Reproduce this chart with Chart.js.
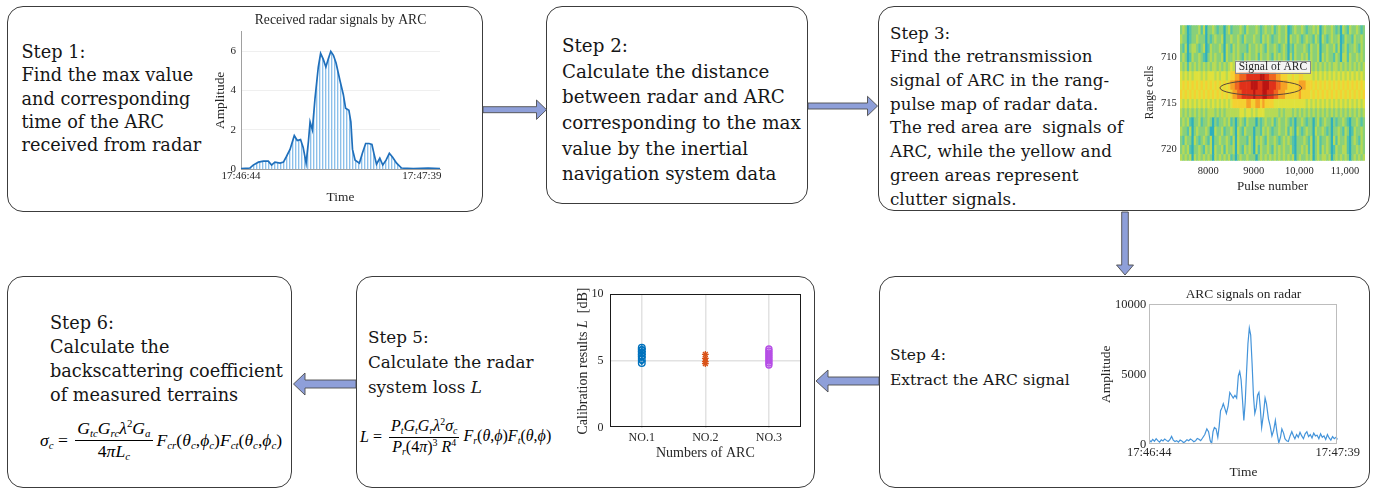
<!DOCTYPE html>
<html>
<head>
<meta charset="utf-8">
<title>ARC calibration workflow</title>
<script src="https://cdn.jsdelivr.net/npm/chart.js@4.4.1/dist/chart.umd.min.js"></script>
<style>
  html, body { margin: 0; padding: 0; background: #fff; }
  #stage { position: relative; width: 1376px; height: 490px; overflow: hidden; background: #fff; color: #161616; font-family: "DejaVu Serif", serif; }
  .box { position: absolute; box-sizing: border-box; border: 1px solid #3c3c3c; border-radius: 16px; }
  .txt { position: absolute; white-space: nowrap; font-size: 17.7px; line-height: 23.3px; }
  canvas { position: absolute; }
  #arrows { position: absolute; left: 0; top: 0; }
  .eq { position: absolute; display: flex; align-items: center; white-space: nowrap; font-family: "Liberation Serif", serif; font-style: italic; color: #000; }
  .eq .up { font-style: normal; }
  .eq sub, .eq sup { font-size: 0.62em; line-height: 1; }
  .eq sub { vertical-align: -0.3em; }
  .eq sup { vertical-align: 0.6em; }
  .frac { display: inline-flex; flex-direction: column; align-items: center; margin: 0 4px 0 3px; }
  .frac > span { line-height: 1.15; padding: 0 2px; }
  .frac > .num { border-bottom: 1px solid #000; padding-bottom: 1px; }
</style>
</head>
<body>
<div id="stage">
  <!-- step panels -->
  <div class="box" style="left:7px;top:6px;width:476px;height:206px;"></div>
  <div class="box" style="left:546px;top:6px;width:262px;height:198px;"></div>
  <div class="box" style="left:878px;top:6px;width:492px;height:205px;"></div>
  <div class="box" style="left:879px;top:276px;width:491px;height:212px;"></div>
  <div class="box" style="left:356px;top:276px;width:459px;height:212px;"></div>
  <div class="box" style="left:7px;top:276px;width:285px;height:212px;"></div>

  <!-- flow arrows -->
  <svg id="arrows" width="1376" height="490">
    <g fill="#8e9fd9" stroke="#4d4d4d" stroke-width="0.9" stroke-linejoin="miter">
      <polygon points="483,106.7 536.5,106.7 536.5,100 546.5,109.7 536.5,119.4 536.5,112.7 483,112.7"/>
      <polygon points="808,103 867.5,103 867.5,96.3 877.5,106 867.5,115.7 867.5,109 808,109"/>
      <polygon points="1121.7,212 1128.3,212 1128.3,265 1133.5,265 1125,275 1116.5,265 1121.7,265"/>
      <polygon points="879,377 828,377 828,370 816,381 828,392 828,385 879,385"/>
      <polygon points="356,380 305,380 305,373 293.5,384 305,395 305,388 356,388"/>
    </g>
  </svg>

  <!-- step texts -->
  <div class="txt" style="left:21.5px;top:41px;">Step 1:<br>Find the max value<br>and corresponding<br>time of the ARC<br>received from radar</div>
  <div class="txt" style="left:562px;top:32.8px;font-size:18.3px;line-height:25.7px;">Step 2:<br>Calculate the distance<br>between radar and ARC<br>corresponding to the max<br>value by the inertial<br>navigation system data</div>
  <div class="txt" style="left:890px;top:21.6px;font-size:16.7px;line-height:23.7px;">Step 3:<br>Find the retransmission<br>signal of ARC in the rang-<br>pulse map of radar data.<br>The red area are&nbsp; signals of<br>ARC, while the yellow and<br>green areas represent<br>clutter signals.</div>
  <div class="txt" style="left:890px;top:343.1px;font-size:15.5px;line-height:25px;">Step 4:<br>Extract the ARC signal</div>
  <div class="txt" style="left:368px;top:324.7px;font-size:16.8px;line-height:25px;">Step 5:<br>Calculate the radar<br>system loss <i>L</i></div>
  <div class="txt" style="left:50px;top:310.8px;line-height:24px;">Step 6:<br>Calculate the<br>backscattering coefficient<br>of measured terrains</div>

  <!-- charts -->
  <canvas id="c1" width="242" height="200" style="left:208px;top:8px;"></canvas>
  <canvas id="c3" width="232" height="182" style="left:1140px;top:15px;"></canvas>
  <canvas id="c4" width="276" height="201" style="left:1098px;top:284px;"></canvas>
  <canvas id="c5" width="233" height="179" style="left:575px;top:286px;"></canvas>

  <!-- equations -->
  <div class="eq" style="left:40px;top:418px;font-size:17.6px;">
    <span>σ<sub>c</sub></span><span class="up">&nbsp;=&nbsp;</span>
    <span class="frac"><span class="num">G<sub>tc</sub>G<sub>rc</sub>λ<sup class="up">2</sup>G<sub>a</sub></span><span class="den"><span class="up">4</span>πL<sub>c</sub></span></span>
    <span>F<sub>cr</sub><span class="up">(</span>θ<sub>c</sub><span class="up">,</span>ϕ<sub>c</sub><span class="up">)</span>F<sub>ct</sub><span class="up">(</span>θ<sub>c</sub><span class="up">,</span>ϕ<sub>c</sub><span class="up">)</span></span>
  </div>
  <div class="eq" style="left:360px;top:417px;font-size:16px;">
    <span>L</span><span class="up">&nbsp;=&nbsp;</span>
    <span class="frac"><span class="num">P<sub>t</sub>G<sub>t</sub>G<sub>r</sub>λ<sup class="up">2</sup>σ<sub>c</sub></span><span class="den">P<sub>r</sub><span class="up">(</span><span class="up">4</span>π<span class="up">)</span><sup class="up">3</sup>&nbsp;R<sup class="up">4</sup></span></span>
    <span>F<sub>r</sub><span class="up">(</span>θ<span class="up">,</span>ϕ<span class="up">)</span>F<sub>t</sub><span class="up">(</span>θ<span class="up">,</span>ϕ<span class="up">)</span></span>
  </div>
</div>

<script>
// ---------- Step 1: received radar signals by ARC (seconds after 17:46:44) ----------
const s1Time = [0, 2.7, 3.7, 5.3, 6.8, 8.3, 9.3, 10.3, 11.9, 12.9, 13.7, 14.9, 16.2, 17.1, 18.1, 18.9, 19.8, 20.5, 21.0, 21.7,
                22.5, 23.5, 24.2, 25.0, 25.8, 26.5, 27.3, 28.1, 28.9, 30.1, 31.1, 31.8, 32.8, 33.4, 33.9, 34.7, 36.0, 36.9, 37.9, 38.9,
                39.8, 40.4, 41.2, 42.2, 43.1, 44.1, 45.1, 46.1, 47.3, 48.8, 52.4, 56.9, 60.5];
const s1Amp  = [0.02, 0.05, 0.2, 0.35, 0.4, 0.4, 0.2, 0.35, 0.3, 0.35, 0.6, 1.0, 1.7, 1.45, 1.5, 1.1, 0.3, 1.4, 2.4, 2.0,
                3.6, 5.2, 5.9, 5.6, 5.2, 5.6, 6.0, 5.8, 5.4, 4.5, 3.8, 3.1, 3.0, 2.4, 1.0, 0.45, 0.3, 0.8, 1.3, 1.3,
                1.25, 0.8, 0.25, 0.55, 0.2, 0.45, 0.8, 0.6, 0.3, 0.05, 0.02, 0.04, 0.02];
const s1TickTimes = [0, 55];
const s1TickLabels = ['17:46:44', '17:47:39'];
const s1AmpTicks = [0, 2, 4, 6];

// ---------- Step 3: range-pulse map ----------
const rangeCells = [707, 708, 709, 710, 711, 712, 713, 714, 715, 716, 717, 718, 719, 720, 721];
// one digit per pulse bin, 0 = weakest ... 9 = strongest
const heatRows = [
  '232012223 130223212 202312223 213222321 232231232 230123223 212232302 322321203 213223212',
  '322012232 220212322 302232232 132223221 323212232 230322321 232213203 212322301 322132232',
  '213023321 230132223 203213232 221322323 213223212 320213222 321322302 232231302 312232132',
  '232013223 210232322 303223232 132322313 223213232 320313223 231322303 232213203 313223232',
  '323132323 232323323 232343434 445555554 555443333 323332333 232323232 323233232 323232323',
  '434343444 343444343 443455667 778888889 988777665 554454455 444434343 434343434 343434343',
  '454545454 545454545 454566778 888899988 999888776 665555566 655545454 545454545 454545454',
  '545454545 454545454 545456677 888889888 998887766 655555565 555454545 454545454 545454545',
  '434343434 343434343 434345555 556655665 655554444 444444444 434343434 343434343 434343434',
  '323232323 232333232 323333334 434434344 433333323 233323232 323232323 232323232 323232323',
  '232310223 122320212 232312023 213222021 232231232 232120223 212202312 322021223 210223212',
  '322130232 223200322 312232032 132220221 323212232 231320321 232203223 212022321 320132232',
  '213220321 232130223 223213032 221320323 213223212 323210222 321302312 232031322 310232132',
  '232310223 213230322 313223032 132320313 223213232 322310223 231302313 232013223 310223232',
  '323230323 232320323 232312023 223222023 232323232 323230232 232302323 323023232 320232323'
].map(r => r.replace(/ /g, ''));
const pulseMin = 7380, pulseMax = 11440;
const rangeMin = 706.4, rangeMax = 721.2;
const pulseTicks = [8000, 9000, 10000, 11000];
const pulseTickLabels = ['8000', '9000', '10,000', '11,000'];
const rangeTicks = [710, 715, 720];
const heatColors = ['#2fb0bd', '#55c3a8', '#88d07b', '#b6da55', '#dfe13c', '#f4d132', '#f6a126', '#ef6520', '#e0311a', '#bb1512'];

// ---------- Step 4: ARC signals on radar ----------
const s4Time = [0, 0.5, 1, 1.5, 2, 2.5, 3, 3.5, 4, 4.5, 5, 5.5, 6, 6.5, 7, 7.5, 8, 8.5, 9, 9.5, 10, 10.5, 11, 11.5, 12, 12.5, 13, 13.5, 14, 14.5, 15, 15.5,
  16.2, 16.8, 17.3, 17.8, 18.2, 18.6, 19.0, 19.5, 20.0, 20.4, 20.8, 21.2, 21.6, 22.0, 22.5, 23.0, 23.5, 24.0, 24.5, 25.0,
  25.5, 26.0, 26.4, 26.8, 27.2, 27.6, 28.0, 28.4, 28.8, 29.2, 29.6, 30.0, 30.4, 30.8, 31.2, 31.6, 32.0, 32.4, 32.8, 33.3,
  33.8, 34.2, 34.8, 35.3, 35.8, 36.3, 36.8, 37.3, 37.8, 38.3, 38.7, 39.2, 39.6, 40.1, 40.6, 41.1, 41.6, 42.1,
  42.5, 43, 43.5, 44, 44.5, 45, 45.5, 46, 46.5, 47, 47.5, 48, 48.5, 49, 49.5, 50, 50.5, 51, 51.5, 52, 52.5, 53, 53.5, 54, 54.5, 55];
const s4Amp = [300, 180, 350, 220, 400, 260, 150, 320, 240, 380, 280, 200, 330, 560, 300, 200, 260, 150, 300, 240, 120, 200, 330, 260, 380, 300, 180, 250, 420, 360, 260, 430,
  700, 1100, 900, 250, 50, 900, 1200, 1100, 500, 1300, 2400, 2600, 2900, 2600, 2200, 2700, 3700, 3500, 3300, 3500,
  3300, 4900, 5200, 4600, 3200, 1700, 3000, 5200, 7200, 8300, 7800, 5800, 3500, 2200, 2600, 3500, 3700, 2600, 1200, 2100,
  3300, 2900, 1800, 1300, 600, 1000, 1700, 800, 100, 500, 1100, 800, 400, 250, 200, 600, 900, 600,
  400, 700, 500, 850, 600, 400, 750, 900, 550, 700, 450, 800, 600, 650, 400, 750, 500, 600, 350, 700, 450, 300, 550, 400, 500, 350];
const s4AmpTicks = [0, 5000, 10000];
const s4AmpLabels = ['0', '5000', '10000'];

// ---------- Step 5: calibration results L [dB] per ARC ----------
const arcNames = ['NO.1', 'NO.2', 'NO.3'];
const arcPos = [1, 2, 3];
const calNo1 = [4.85, 5.0, 5.15, 5.3, 5.4, 5.5, 5.6, 5.7, 5.8, 5.9, 6.0];
const calNo2 = [4.8, 4.95, 5.2, 5.5];
const calNo3 = [4.7, 4.85, 5.0, 5.15, 5.3, 5.45, 5.6, 5.75, 5.9];
const calTicks = [0, 5, 10];

// ---------- shared settings ----------
Chart.defaults.font.family = '"Liberation Serif", "Times New Roman", serif';
Chart.defaults.color = '#262626';
Chart.defaults.animation = false;
Chart.defaults.responsive = false;
Chart.defaults.devicePixelRatio = 1;
Chart.defaults.plugins.legend.display = false;
Chart.defaults.plugins.tooltip.enabled = false;

const fixedTicks = values => s => { s.ticks = values.map(v => ({ value: v })); };
const fitH = h => s => { s.height = h; s.paddingLeft = 0; s.paddingRight = 0; };
const fitW = w => s => { s.width = w; s.paddingTop = 0; s.paddingBottom = 0; };

// box around the plot area
const framePlugin = {
  id: 'frame',
  afterDatasetsDraw(chart, args, opts) {
    if (!opts || !opts.color) return;
    const { ctx, chartArea: a } = chart;
    ctx.save();
    ctx.strokeStyle = opts.color;
    ctx.lineWidth = opts.width || 1;
    ctx.strokeRect(Math.round(a.left) + 0.5, Math.round(a.top) + 0.5, Math.round(a.width) - 1, Math.round(a.height) - 1);
    ctx.restore();
  }
};

// vertical stem texture under the step 1 envelope
function stemPattern() {
  const c = document.createElement('canvas');
  c.width = 3; c.height = 4;
  const g = c.getContext('2d');
  g.fillStyle = '#8cc0ea'; g.fillRect(0, 0, 1, 4);
  g.fillStyle = '#d6e8f8'; g.fillRect(1, 0, 1, 4);
  return g.createPattern(c, 'repeat');
}

// Step 1
new Chart(document.getElementById('c1'), {
  type: 'line',
  data: { datasets: [{
    data: s1Time.map((t, i) => ({ x: t, y: s1Amp[i] })),
    borderColor: '#1f6fbb', borderWidth: 1.7, pointRadius: 0,
    fill: 'origin', backgroundColor: stemPattern()
  }] },
  options: {
    layout: { padding: { top: 0, right: 10, bottom: 0, left: 0 } },
    plugins: {
      title: { display: true, fullSize: false, text: 'Received radar signals by ARC', color: '#262626',
               font: { size: 13.6, weight: 'normal' }, padding: { top: 4, bottom: 3.4 } }
    },
    scales: {
      x: { type: 'linear', min: 0, max: 60.5,
           afterBuildTicks: fixedTicks(s1TickTimes), afterFit: fitH(39),
           ticks: { font: { size: 11 }, padding: 1, maxRotation: 0, autoSkip: false,
                    callback: v => s1TickLabels[s1TickTimes.indexOf(v)] },
           grid: { display: false, drawTicks: false }, border: { color: '#a0a0a0' },
           title: { display: true, text: 'Time', font: { size: 13.4 }, padding: { top: 0, bottom: 2 } } },
      y: { min: 0, max: 7,
           afterBuildTicks: fixedTicks(s1AmpTicks), afterFit: fitW(33),
           ticks: { font: { size: 11 }, padding: 5 },
           grid: { color: '#efefef', drawTicks: false }, border: { color: '#a0a0a0' },
           title: { display: true, text: 'Amplitude', font: { size: 13.4 }, padding: { top: 4, bottom: 0 } } }
    }
  }
});

// Step 3 heat map cells, ellipse and label drawn through the chart scales
const heatPlugin = {
  id: 'heat',
  beforeDatasetsDraw(chart) {
    const { ctx, chartArea: a, scales: { x, y } } = chart;
    ctx.save();
    ctx.beginPath(); ctx.rect(a.left, a.top, a.width, a.height); ctx.clip();
    heatRows.forEach((row, r) => {
      const cell = rangeCells[r];
      const w = (pulseMax - pulseMin) / row.length;
      const y0 = y.getPixelForValue(cell - 0.5), y1 = y.getPixelForValue(cell + 0.5);
      for (let c = 0; c < row.length; c++) {
        const x0 = x.getPixelForValue(pulseMin + c * w), x1 = x.getPixelForValue(pulseMin + (c + 1) * w);
        ctx.fillStyle = heatColors[+row[c]];
        ctx.fillRect(x0, Math.min(y0, y1), x1 - x0 + 0.6, Math.abs(y1 - y0) + 0.6);
      }
    });
    // ellipse marking the ARC return
    const cx = x.getPixelForValue(9154), cy = y.getPixelForValue(713.3);
    const rx = Math.abs(x.getPixelForValue(9154 + 897) - cx), ry = Math.abs(y.getPixelForValue(713.3 + 0.81) - cy);
    ctx.beginPath(); ctx.ellipse(cx, cy, rx, ry, 0, 0, Math.PI * 2);
    ctx.strokeStyle = '#5a4a3a'; ctx.lineWidth = 1; ctx.stroke();
    // label
    const lx = x.getPixelForValue(9418), ly = y.getPixelForValue(711.0);
    ctx.font = '11.5px "Liberation Serif", serif';
    const tw = ctx.measureText('Signal of ARC').width;
    ctx.fillStyle = '#f4f4f4'; ctx.strokeStyle = '#8a8a8a';
    ctx.fillRect(lx - tw / 2 - 3.5, ly - 6, tw + 7, 12);
    ctx.strokeRect(Math.round(lx - tw / 2 - 3.5) + 0.5, Math.round(ly - 6) + 0.5, Math.round(tw + 7), 12);
    ctx.fillStyle = '#262626'; ctx.textAlign = 'center'; ctx.textBaseline = 'middle';
    ctx.fillText('Signal of ARC', lx, ly + 0.5);
    ctx.restore();
  }
};
new Chart(document.getElementById('c3'), {
  type: 'scatter',
  data: { datasets: [{ data: [] }] },
  options: {
    layout: { padding: { top: 9.3, right: 7, bottom: 0, left: 0 } },
    scales: {
      x: { type: 'linear', min: pulseMin, max: pulseMax,
           afterBuildTicks: fixedTicks(pulseTicks), afterFit: fitH(36.3),
           ticks: { font: { size: 10.5 }, padding: 4, maxRotation: 0, autoSkip: false,
                    callback: v => pulseTickLabels[pulseTicks.indexOf(v)] },
           grid: { display: false, drawTicks: false }, border: { display: false },
           title: { display: true, text: 'Pulse number', font: { size: 13 }, padding: { top: 0, bottom: 2.8 } } },
      y: { reverse: true, min: rangeMin, max: rangeMax,
           afterBuildTicks: fixedTicks(rangeTicks), afterFit: fitW(40),
           ticks: { font: { size: 10.5 }, padding: 3.3 },
           grid: { display: false, drawTicks: false }, border: { display: false },
           title: { display: true, text: 'Range cells', font: { size: 11.5 }, padding: { top: 3.1, bottom: 0 } } }
    }
  },
  plugins: [heatPlugin]
});

// Step 4
new Chart(document.getElementById('c4'), {
  type: 'line',
  data: { datasets: [{
    data: s4Time.map((t, i) => ({ x: t, y: s4Amp[i] })),
    borderColor: '#4494da', borderWidth: 1.2, pointRadius: 0, fill: false
  }] },
  options: {
    layout: { padding: { top: 0, right: 36.3, bottom: 0, left: 0 } },
    plugins: {
      title: { display: true, fullSize: false, text: 'ARC signals on radar', color: '#262626',
               font: { size: 13.4, weight: 'normal' }, padding: { top: 2, bottom: 2.2 } },
      frame: { color: '#bdbdbd' }
    },
    scales: {
      x: { type: 'linear', min: 0, max: 55,
           afterBuildTicks: fixedTicks(s1TickTimes), afterFit: fitH(40.7),
           ticks: { font: { size: 12.5 }, padding: 1, maxRotation: 0, autoSkip: false,
                    callback: v => s1TickLabels[s1TickTimes.indexOf(v)] },
           grid: { display: false, drawTicks: false }, border: { display: false },
           title: { display: true, text: 'Time', font: { size: 13.4 }, padding: { top: 0, bottom: 4 } } },
      y: { min: 0, max: 10000,
           afterBuildTicks: fixedTicks(s4AmpTicks), afterFit: fitW(51.3),
           ticks: { font: { size: 12.5 }, padding: 3, callback: v => s4AmpLabels[s4AmpTicks.indexOf(v)] },
           grid: { display: false, drawTicks: false }, border: { display: false },
           title: { display: true, text: 'Amplitude', font: { size: 13.4 }, padding: { top: 0.7, bottom: 0 } } }
    }
  },
  plugins: [framePlugin]
});

// Step 5 y-axis title with italic L
const calTitlePlugin = {
  id: 'calTitle',
  afterDraw(chart) {
    const { ctx, chartArea: a } = chart;
    const parts = [['Calibration results ', false], ['L', true], ['  [dB]', false]];
    ctx.save();
    ctx.translate(8.5, (a.top + a.bottom) / 2);
    ctx.rotate(-Math.PI / 2);
    ctx.textBaseline = 'middle'; ctx.textAlign = 'left'; ctx.fillStyle = '#262626';
    const fonts = parts.map(p => (p[1] ? 'italic ' : '') + '14px "Liberation Serif", serif');
    const widths = parts.map((p, i) => { ctx.font = fonts[i]; return ctx.measureText(p[0]).width; });
    let x = -widths.reduce((s, w) => s + w, 0) / 2;
    parts.forEach((p, i) => { ctx.font = fonts[i]; ctx.fillText(p[0], x, 0); x += widths[i]; });
    ctx.restore();
  }
};
new Chart(document.getElementById('c5'), {
  type: 'scatter',
  data: { datasets: [
    { data: calNo1.map(v => ({ x: arcPos[0], y: v })), pointStyle: calNo1.map((v, i) => i % 2 ? 'rectRot' : 'circle'),
      pointRadius: 3.3, borderColor: '#0072bd', backgroundColor: 'rgba(0,0,0,0)', pointBorderWidth: 1.4 },
    { data: calNo2.map(v => ({ x: arcPos[1], y: v })), pointStyle: 'star',
      pointRadius: 3.4, borderColor: '#d95319', backgroundColor: 'rgba(0,0,0,0)', pointBorderWidth: 1.3 },
    { data: calNo3.map(v => ({ x: arcPos[2], y: v })), pointStyle: 'circle',
      pointRadius: 3, borderColor: '#b64ee6', backgroundColor: 'rgba(0,0,0,0)', pointBorderWidth: 1.4 }
  ] },
  options: {
    layout: { padding: { top: 8.3, right: 7.3, bottom: 0, left: 0 } },
    plugins: { frame: { color: '#1a1a1a' } },
    scales: {
      x: { type: 'linear', min: 0.5, max: 3.5,
           afterBuildTicks: fixedTicks(arcPos), afterFit: fitH(37.3),
           ticks: { font: { size: 12 }, padding: 3, maxRotation: 0, autoSkip: false,
                    callback: v => arcNames[arcPos.indexOf(v)] },
           grid: { color: '#e2e2e2', lineWidth: 1.5, drawTicks: false }, border: { display: false },
           title: { display: true, text: 'Numbers of ARC', font: { size: 14 }, padding: { top: 0, bottom: 3.3 } } },
      y: { min: 0, max: 10,
           afterBuildTicks: fixedTicks(calTicks), afterFit: fitW(35),
           ticks: { font: { size: 12 }, padding: 6.5 },
           grid: { color: c => (c.tick && c.tick.value === 5 ? '#e2e2e2' : 'rgba(0,0,0,0)'), lineWidth: 1.5, drawTicks: false },
           border: { display: false }, title: { display: false } }
    }
  },
  plugins: [framePlugin, calTitlePlugin]
});
</script>
</body>
</html>
